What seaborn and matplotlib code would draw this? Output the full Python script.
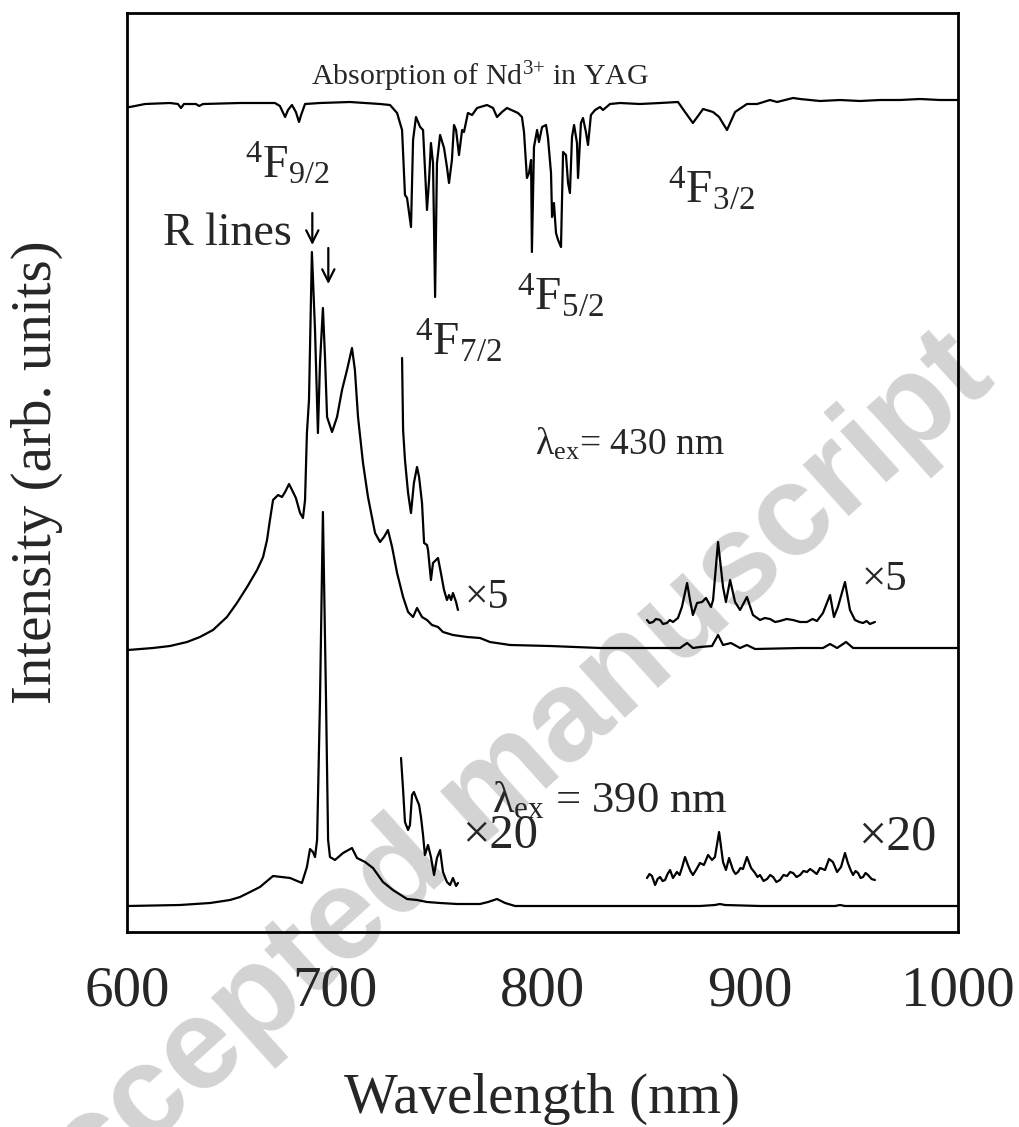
import numpy as np
import pandas as pd
import matplotlib
matplotlib.use("Agg")
import matplotlib.pyplot as plt
import seaborn as sns

# ---------------- data ----------------
# Absorption spectrum (top trace)
abs_wl = [600.5, 601.4, 608.7, 620.7, 624.5, 626.0, 627.4, 633.2, 634.7, 636.6, 654.4, 671.2,
          673.6, 676.1, 677.5, 679.4, 681.3, 682.8, 683.8, 685.7, 692.9, 707.3, 721.8, 726.6,
          730.0, 732.4, 733.8, 734.8, 736.7, 737.7, 739.1, 741.1, 742.5, 744.4, 745.4, 746.3,
          747.3, 748.3, 749.2, 750.7, 752.6, 754.0, 755.0, 756.4, 757.4, 758.4, 759.8, 761.3,
          762.2, 764.1, 766.1, 768.5, 773.3, 776.2, 778.1, 780.5, 782.9, 788.2, 790.1, 791.1,
          792.5, 793.5, 794.5, 794.9, 795.9, 797.4, 798.3, 799.8, 801.7, 802.6, 804.1, 804.6,
          805.5, 806.5, 807.5, 808.9, 809.9, 811.3, 812.3, 813.2, 814.2, 815.2, 816.6, 817.1,
          818.5, 819.5, 820.9, 821.9, 823.3, 825.3, 827.7, 829.1, 832.5, 837.3, 846.9, 856.6,
          865.2, 868.6, 872.4, 877.3, 882.1, 885.0, 888.8, 892.7, 898.4, 903.3, 909.5, 912.9,
          920.6, 924.0, 933.6, 943.2, 952.8, 962.5, 972.1, 981.7, 991.3, 999.5]
abs_val = [825, 825, 828, 829, 828, 824, 828, 828, 826, 828, 829, 829,
           826, 815, 822, 827, 820, 810, 817, 828, 829, 830, 828, 827,
           819, 802, 737, 734, 705, 792, 815, 805, 802, 722, 752, 789,
           769, 635, 769, 797, 784, 765, 749, 772, 807, 802, 777, 802,
           800, 819, 817, 824, 827, 824, 815, 820, 824, 819, 815, 800,
           754, 759, 772, 680, 785, 802, 790, 805, 807, 795, 759, 715,
           729, 699, 692, 685, 780, 777, 749, 739, 795, 807, 789, 754,
           809, 814, 800, 787, 817, 822, 825, 822, 828, 829, 828, 829,
           830, 820, 809, 823, 820, 815, 802, 820, 828, 828, 832, 830,
           834, 833, 831, 832, 831, 832, 832, 833, 832, 832]

# Emission, excitation 430 nm
em430_wl = [600.5, 612.5, 620.7, 628.9, 635.1, 641.4, 648.1, 652.9, 657.8, 662.6, 665.5, 667.4,
            668.8, 670.3, 672.7, 674.6, 676.1, 678.0, 679.9, 681.3, 683.3, 684.7, 685.7, 686.6,
            687.6, 689.0, 690.5, 691.9, 692.9, 694.3, 695.3, 696.3, 698.7, 701.1, 703.5, 705.9,
            708.3, 709.7, 711.2, 713.6, 716.0, 719.4, 721.8, 723.7, 725.6, 727.6, 730.0, 732.9,
            735.3, 737.7, 739.6, 742.0, 744.4, 746.8, 749.7, 752.1, 756.9, 763.7, 769.9, 774.7,
            784.4, 803.6, 827.7, 851.7, 866.2, 869.6, 872.4, 875.8, 881.6, 884.5, 886.9, 890.7,
            895.1, 898.4, 902.3, 924.0, 935.0, 938.4, 941.8, 946.1, 949.5, 972.1, 999.5]
em430_val = [282, 284, 286, 290, 295, 302, 315, 329, 345, 362, 375, 392,
             412, 432, 437, 435, 440, 448, 440, 434, 419, 414, 432, 499,
             532, 680, 602, 499, 569, 624, 575, 515, 500, 515, 542, 562,
             584, 562, 515, 469, 435, 399, 390, 395, 402, 385, 359, 335,
             320, 315, 324, 315, 312, 307, 305, 300, 297, 295, 294, 290,
             287, 286, 284, 284, 284, 289, 284, 285, 286, 297, 287, 289,
             284, 287, 283, 284, 284, 288, 284, 290, 284, 284, 284]

# x5 magnified parts (430 nm)
em430_x5a_wl = [732.4, 732.9, 733.8, 735.3, 736.7, 738.1, 739.6, 740.6, 742.0, 743.0, 744.4, 744.9,
                746.3, 747.3, 749.7, 751.1, 752.6, 754.0, 755.0, 756.0, 756.9, 758.4, 759.3]
em430_x5a_val = [574, 502, 472, 439, 419, 449, 465, 455, 429, 389, 387, 382,
                 352, 369, 374, 359, 342, 332, 337, 332, 339, 330, 322]
em430_x5b_wl = [850.3, 851.5, 853.2, 854.6, 856.6, 858.0, 859.9, 861.3, 862.8, 865.2, 867.1, 869.6,
                871.0, 872.4, 874.4, 876.8, 878.7, 881.1, 882.1, 884.5, 886.9, 888.3, 890.3, 892.7,
                895.1, 898.4, 901.3, 904.7, 907.0, 909.5, 912.0, 914.3, 917.5, 920.6, 924.0, 927.3,
                930.0, 932.1, 935.0, 938.4, 940.3, 942.2, 945.6, 948.0, 950.4, 952.5, 954.3, 956.0,
                957.6, 960.0]
em430_x5b_val = [312, 309, 310, 313, 312, 308, 309, 312, 310, 314, 325, 349,
                 332, 317, 329, 330, 334, 325, 332, 390, 345, 330, 352, 330,
                 322, 335, 317, 312, 314, 313, 310, 311, 313, 312, 310, 310,
                 313, 311, 319, 337, 315, 325, 350, 322, 312, 310, 309, 311,
                 308, 310]

# Emission, excitation 390 nm
em390_wl = [600.5, 625.5, 640.0, 649.6, 654.4, 660.2, 664.0, 670.3, 678.5, 684.2, 686.6, 688.1,
            689.5, 690.5, 691.5, 692.9, 694.3, 695.8, 696.8, 697.7, 700.1, 704.0, 708.3, 710.7,
            714.6, 718.4, 723.2, 728.0, 734.8, 739.6, 744.4, 750.7, 758.8, 769.9, 773.8, 778.1,
            782.0, 786.8, 827.7, 875.8, 883.0, 885.4, 887.8, 904.7, 940.8, 943.2, 945.6, 999.5]
em390_val = [26, 27, 29, 32, 35, 41, 45, 56, 54, 49, 65, 83,
             80, 75, 92, 232, 420, 232, 92, 75, 72, 79, 84, 74,
             70, 64, 50, 42, 33, 32, 30, 29, 28, 28, 30, 33,
             29, 26, 26, 26, 27, 28, 27, 26, 26, 27, 26, 26]

# x20 magnified parts (390 nm)
em390_x20a_wl = [731.9, 732.9, 733.8, 735.3, 736.2, 737.2, 738.1, 739.6, 740.6, 741.5, 742.5, 743.4,
                 744.9, 746.3, 747.8, 749.2, 750.7, 752.1, 754.0, 755.5, 756.9, 758.4, 759.3]
em390_x20a_val = [174, 142, 110, 102, 107, 137, 140, 132, 127, 115, 97, 77,
                  87, 75, 57, 74, 82, 60, 50, 47, 54, 46, 49]
em390_x20b_wl = [850.3, 851.5, 852.7, 854.2, 855.4, 856.6, 857.8, 859.0, 860.2, 861.4, 862.8, 864.7,
                 866.0, 867.1, 868.6, 870.0, 871.2, 872.4, 873.9, 875.8, 877.7, 879.7, 881.6, 883.0,
                 885.0, 886.9, 888.3, 889.8, 891.7, 892.9, 894.1, 895.3, 896.5, 898.4, 900.4, 902.3,
                 903.5, 904.7, 906.4, 908.1, 909.6, 911.0, 912.6, 914.3, 916.0, 917.7, 919.2, 920.6,
                 922.3, 924.0, 925.6, 927.3, 928.8, 930.2, 932.0, 933.6, 936.0, 937.9, 939.8, 941.8,
                 943.7, 945.6, 947.0, 948.3, 949.5, 950.7, 951.9, 953.1, 954.3, 955.5, 956.7, 958.4,
                 960.0]
em390_x20b_val = [54, 58, 56, 47, 53, 55, 51, 52, 58, 62, 54, 60,
                  57, 64, 75, 67, 61, 57, 62, 69, 67, 77, 72, 75,
                  100, 70, 62, 74, 62, 58, 60, 64, 63, 75, 64, 59,
                  55, 57, 51, 53, 57, 55, 50, 52, 57, 56, 60, 59,
                  55, 57, 61, 60, 63, 61, 58, 64, 62, 73, 70, 60,
                  65, 79, 69, 62, 57, 61, 59, 54, 55, 59, 57, 53,
                  52]

# ---------------- figure ----------------
sns.set_style("white")
plt.rcParams['font.family'] = ['Liberation Serif', 'DejaVu Serif']
plt.rcParams['mathtext.fontset'] = 'custom'
plt.rcParams['mathtext.rm'] = 'Liberation Serif'
plt.rcParams['mathtext.it'] = 'Liberation Serif:italic'
plt.rcParams['mathtext.bf'] = 'Liberation Serif:bold'

fig = plt.figure(figsize=(10.19, 11.27), dpi=100)
ax = fig.add_axes([127 / 1019, 1 - 932 / 1127, (958 - 127) / 1019, (932 - 13) / 1127])

# watermark (behind the axes content)
fig.text(0.478, 0.293, "Accepted manuscript", fontsize=93, fontweight='bold',
         family='Liberation Sans', color='#d3d3d3', rotation=42, ha='center', va='center',
         zorder=-5)
ax.set_facecolor('none')

series = [(abs_wl, abs_val), (em430_wl, em430_val), (em430_x5a_wl, em430_x5a_val),
          (em430_x5b_wl, em430_x5b_val), (em390_wl, em390_val),
          (em390_x20a_wl, em390_x20a_val), (em390_x20b_wl, em390_x20b_val)]
for wl, val in series:
    df = pd.DataFrame({"wl": wl, "I": val})
    sns.lineplot(data=df, x="wl", y="I", color='black', lw=1.6, ax=ax,
                 estimator=None, sort=False)

ax.set_xlim(600, 1000)
ax.set_ylim(0, 919)
ax.set_xticks([600, 700, 800, 900, 1000])
ax.set_xticks(np.arange(620, 1000, 20), minor=True)
ax.set_yticks([])
ax.tick_params(axis='x', which='major', direction='in', length=18, width=1.5,
               labelsize=41, pad=24, top=False)
ax.tick_params(axis='x', which='minor', direction='in', length=11, width=1.5, top=False)
for s in ax.spines.values():
    s.set_linewidth(2.0)
    s.set_color('black')

ax.set_xlabel("Wavelength (nm)", fontsize=41, labelpad=40)
ax.set_ylabel("Intensity (arb. units)", fontsize=41, labelpad=46)

# annotations
ax.text(769.9, 847, r"Absorption of Nd$^{3{+}}$ in YAG", fontsize=21.5, ha='center', va='baseline')
ax.text(656.8, 754, r"$^4$F$_{9/2}$", fontsize=33, ha='left', va='baseline')
ax.text(738.6, 577, r"$^4$F$_{7/2}$", fontsize=34, ha='left', va='baseline')
ax.text(787.7, 622, r"$^4$F$_{5/2}$", fontsize=34, ha='left', va='baseline')
ax.text(860.4, 729, r"$^4$F$_{3/2}$", fontsize=34, ha='left', va='baseline')
ax.text(617.3, 687, "R lines", fontsize=33, ha='left', va='baseline')
arrow_kw = dict(arrowstyle='->', lw=1.6, color='black', mutation_scale=22,
                shrinkA=0, shrinkB=0)
ax.annotate('', xy=(689.2, 687), xytext=(689.2, 719), arrowprops=arrow_kw)
ax.annotate('', xy=(696.9, 648), xytext=(696.9, 684), arrowprops=arrow_kw)
ax.text(796.4, 477, "\u03bb$_{\\rm ex}$= 430 nm", fontsize=27, ha='left', va='baseline')
ax.text(775.7, 120, "\u03bb$_{\\rm ex}$ = 390 nm", fontsize=32, ha='left', va='baseline')
ax.text(762.7, 324, "\u00d75", fontsize=30, ha='left', va='baseline')
ax.text(953.8, 342, "\u00d75", fontsize=31, ha='left', va='baseline')
ax.text(761.3, 84, "\u00d720", fontsize=35, ha='left', va='baseline')
ax.text(951.9, 82, "\u00d720", fontsize=36, ha='left', va='baseline')

fig.savefig("out.png", dpi=100)
